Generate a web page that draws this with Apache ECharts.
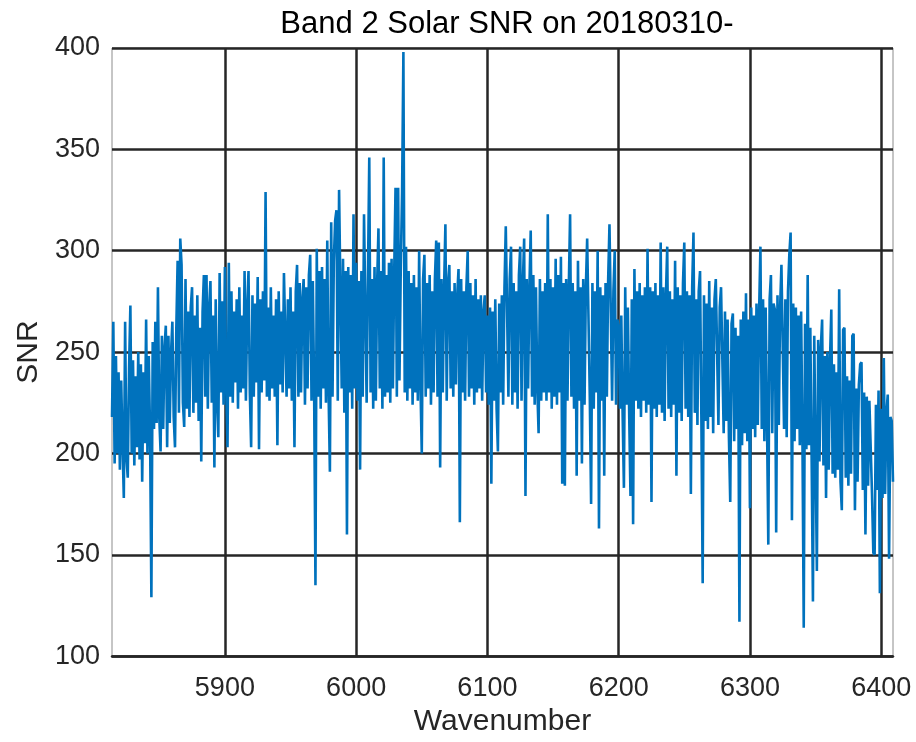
<!DOCTYPE html>
<html>
<head>
<meta charset="utf-8">
<script src="https://cdn.jsdelivr.net/npm/echarts@6/dist/echarts.min.js"></script>
<style>
  html, body { margin: 0; padding: 0; background: #fff; }
  #main { width: 916px; height: 742px; }
</style>
</head>
<body>
<div id="main"></div>
<script>
var myChart = echarts.init(document.getElementById('main'));

// sampling grid of the spectrum
var firstWavenumber = 5814;
var stepWavenumber = 1;

// SNR, one value per wavenumber (5814 ... 6409)
var snr = [
    218, 265, 195, 248, 200, 240, 192, 236, 205, 178,
    265, 198, 188, 242, 273, 200, 246, 194, 238, 203,
    250, 197, 244, 186, 240, 205, 266, 200, 248, 210,
    129, 255, 212, 265, 215, 282, 218, 201, 258, 212,
    252, 263, 203, 258, 215, 250, 265, 218, 203, 262,
    295, 220, 306, 293, 225, 213, 286, 222, 270, 218,
    272, 282, 220, 268, 225, 278, 216, 262, 196, 270,
    288, 228, 288, 222, 272, 285, 225, 268, 193, 276,
    226, 208, 289, 230, 275, 224, 292, 232, 203, 294,
    228, 280, 225, 270, 235, 276, 222, 282, 230, 268,
    232, 290, 226, 272, 290, 230, 203, 278, 228, 274,
    235, 287, 202, 276, 230, 280, 236, 329, 228, 272,
    226, 282, 232, 268, 228, 276, 204, 280, 234, 270,
    230, 289, 289, 228, 276, 232, 282, 226, 270, 203,
    280, 293, 228, 284, 230, 276, 286, 224, 282, 232,
    288, 298, 226, 285, 230, 135, 301, 228, 290, 222,
    292, 232, 286, 225, 305, 230, 191, 314, 228, 295,
    315, 320, 226, 330, 330, 232, 296, 220, 290, 160,
    292, 230, 288, 222, 318, 232, 294, 226, 285, 192,
    290, 228, 318, 318, 225, 288, 346, 230, 286, 222,
    292, 226, 284, 311, 232, 290, 222, 346, 228, 288,
    230, 294, 225, 296, 232, 290, 331, 228, 331, 236,
    292, 329, 398, 230, 302, 226, 290, 232, 284, 224,
    288, 230, 282, 226, 300, 234, 200, 286, 298, 228,
    284, 232, 288, 224, 280, 230, 286, 305, 228, 304,
    193, 286, 230, 282, 313, 226, 284, 293, 232, 280,
    228, 284, 234, 278, 291, 166, 286, 230, 280, 226,
    282, 300, 228, 284, 232, 278, 224, 286, 230, 276,
    232, 278, 226, 270, 278, 230, 268, 224, 272, 185,
    270, 226, 276, 222, 201, 274, 230, 278, 224, 282,
    312, 312, 228, 286, 302, 224, 284, 230, 280, 222,
    288, 302, 226, 284, 306, 179, 286, 232, 282, 310,
    228, 288, 224, 282, 232, 210, 286, 226, 280, 230,
    284, 226, 318, 230, 286, 222, 282, 228, 296, 224,
    288, 230, 297, 185, 284, 184, 286, 226, 282, 318,
    228, 284, 222, 280, 189, 295, 226, 282, 195, 286,
    224, 282, 306, 306, 228, 175, 284, 222, 280, 230,
    300, 163, 282, 226, 278, 189, 284, 228, 286, 313,
    313, 226, 280, 300, 224, 266, 263, 222, 268, 220,
    183, 282, 224, 272, 220, 179, 276, 165, 291, 226,
    280, 222, 284, 218, 278, 226, 282, 220, 301, 224,
    282, 176, 280, 222, 284, 218, 278, 224, 304, 220,
    282, 216, 278, 302, 222, 280, 218, 276, 224, 295,
    189, 282, 220, 278, 216, 284, 304, 222, 280, 218,
    278, 180, 282, 309, 220, 276, 214, 280, 290, 218,
    136, 278, 216, 274, 212, 285, 218, 272, 210, 276,
    286, 286, 214, 272, 282, 282, 210, 270, 216, 266,
    208, 176, 264, 269, 206, 262, 212, 258, 117, 266,
    204, 270, 210, 279, 206, 266, 173, 272, 212, 268,
    208, 274, 214, 270, 302, 212, 276, 206, 272, 216,
    155, 276, 288, 210, 274, 271, 161, 278, 214, 272,
    293, 293, 212, 276, 208, 280, 298, 309, 167, 274,
    206, 272, 212, 268, 204, 270, 208, 114, 264, 202,
    288, 204, 262, 198, 127, 258, 200, 142, 256, 196,
    252, 266, 194, 248, 178, 250, 192, 246, 271, 190,
    244, 188, 240, 192, 281, 186, 172, 261, 262, 188,
    238, 184, 236, 190, 258, 259, 172, 232, 186, 234,
    244, 245, 182, 230, 160, 228, 184, 226, 226, 180,
    151, 150, 224, 182, 231, 131, 222, 178, 247, 180,
    220, 229, 148, 218, 216, 186
];

var xRange = [5814, 6409];
var yTicks = [100, 150, 200, 250, 300, 350, 400];

var points = [];
for (var i = 0; i < snr.length; i++) {
    points.push([firstWavenumber + i * stepWavenumber, snr[i]]);
}

var font = 'Liberation Sans, Arial, Helvetica, sans-serif';
var gridColor = '#262626';

option = {
    animation: false,
    title: {
        text: 'Band 2 Solar SNR on 20180310-',
        left: 502,
        textAlign: 'center',
        top: 4,
        textStyle: { fontFamily: font, fontSize: 31, fontWeight: 'normal', color: '#000' }
    },
    grid: {
        left: 112, right: 23, top: 48, bottom: 80,
        show: true,
        borderColor: '#8c8c8c',
        borderWidth: 1
    },
    xAxis: {
        type: 'value',
        min: xRange[0],
        max: xRange[1],
        splitNumber: 5,
        name: 'Wavenumber',
        nameLocation: 'middle',
        nameGap: 47,
        nameTextStyle: { fontFamily: font, fontSize: 30, color: '#262626' },
        axisLine: { show: true, lineStyle: { color: gridColor, width: 2.5 } },
        axisTick: { show: false },
        axisLabel: {
            showMinLabel: false,
            showMaxLabel: false,
            margin: 19,
            formatter: function (v) { return String(v); },
            fontFamily: font, fontSize: 27, color: '#262626'
        },
        splitLine: {
            show: true,
            showMinLine: false,
            showMaxLine: false,
            lineStyle: { color: gridColor, width: 2.5 }
        }
    },
    yAxis: {
        type: 'value',
        min: yTicks[0],
        max: yTicks[yTicks.length - 1],
        interval: 50,
        name: 'SNR',
        nameLocation: 'middle',
        nameGap: 66,
        nameTextStyle: { fontFamily: font, fontSize: 30, color: '#262626' },
        axisLine: { show: false },
        axisTick: { show: false },
        axisLabel: { margin: 12, fontFamily: font, fontSize: 27, color: '#262626' },
        splitLine: { show: true, lineStyle: { color: gridColor, width: 2.5 } }
    },
    series: [{
        name: 'SNR',
        type: 'line',
        data: points,
        showSymbol: false,
        sampling: 'none',
        lineStyle: { color: '#0072BD', width: 2.6 },
        itemStyle: { color: '#0072BD' }
    }]
};

myChart.setOption(option);
</script>
</body>
</html>
